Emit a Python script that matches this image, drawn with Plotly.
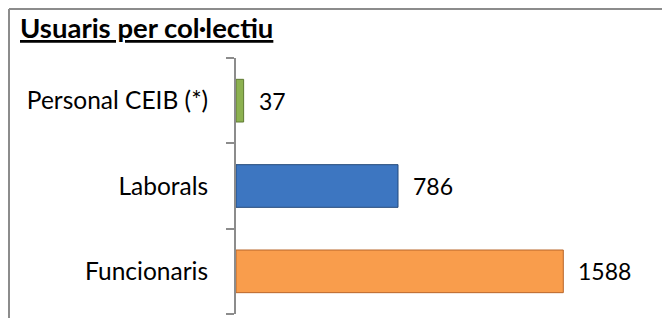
import plotly.graph_objects as go

categories = ["Funcionaris", "Laborals", "Personal CEIB (*)"]
values = [1588, 786, 37]
colors = ["#F99D4C", "#3D76C1", "#8CB150"]
edge_colors = ["#B8662A", "#23497A", "#5E7A32"]
title_text = "Usuaris per col·lectiu"

FONT = "Lato, Carlito, Calibri, sans-serif"

# figure-pixel geometry helpers (plot area 371 x 256, starting at 228, 50)
PW, PH = 371, 256


def px(xp):
    return (xp - 228) / PW


def py(yp):
    return 1 + (50 - yp) / PH


fig = go.Figure()
fig.add_trace(go.Bar(
    x=values, y=categories, orientation="h",
    marker=dict(color=colors, line=dict(color=edge_colors, width=1)),
    width=0.5, hoverinfo="skip",
))

for c, v in zip(categories, values):
    fig.add_annotation(x=v, y=c, text=str(v), showarrow=False,
                       xanchor="left", xshift=13,
                       font=dict(family=FONT, size=23, color="#000"))

fig.add_annotation(xref="paper", yref="paper", x=px(10), y=py(38),
                   xanchor="left", yanchor="bottom",
                   text="<b><u>" + title_text + "</u></b>", showarrow=False,
                   font=dict(family=FONT, size=27.5, color="#000"))

# outer frame (top and left edges; right/bottom are outside the view)
fig.add_shape(type="line", xref="paper", yref="paper",
              x0=px(1), x1=px(670), y0=py(1), y1=py(1),
              line=dict(color="#8C8C8C", width=2))
fig.add_shape(type="line", xref="paper", yref="paper",
              x0=px(1), x1=px(1), y0=py(1), y1=py(318),
              line=dict(color="#8C8C8C", width=2))

fig.update_layout(
    width=670, height=318,
    margin=dict(l=228, r=71, t=50, b=12),
    paper_bgcolor="white", plot_bgcolor="white",
    showlegend=False,
    xaxis=dict(range=[0, 1800], visible=False, fixedrange=True),
    yaxis=dict(range=[-0.5, 2.5], showline=True, linecolor="#8C8C8C", linewidth=2,
               ticks="outside", tickson="boundaries", ticklen=8, tickcolor="#8C8C8C",
               tickwidth=2, showgrid=False, zeroline=False, ticklabelstandoff=21,
               automargin=False,
               tickfont=dict(family=FONT, size=24.5, color="#000")),
)

fig.write_html("out.html")
